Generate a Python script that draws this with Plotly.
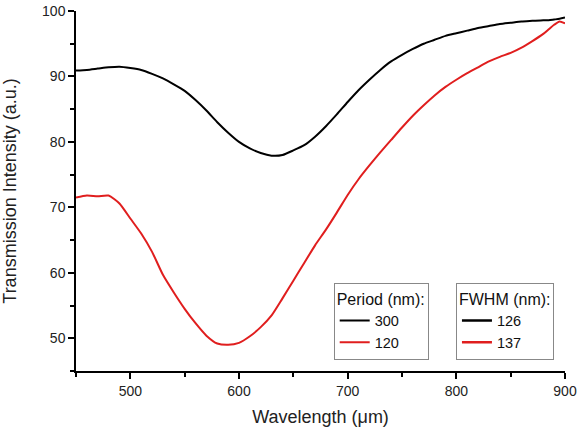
import plotly.graph_objects as go

wavelength = [450, 460, 470, 480, 490, 500, 510, 520, 530, 540, 550, 560, 570, 580, 590,
              600, 610, 620, 630, 640, 650, 660, 670, 680, 690, 700, 710, 720, 730, 740,
              750, 760, 770, 780, 790, 800, 810, 820, 830, 840, 850, 860, 870, 880, 885,
              890, 895, 900]

period_300 = [90.9, 91.0, 91.2, 91.4, 91.5, 91.3, 91.0, 90.4, 89.7, 88.8, 87.8, 86.4, 84.8,
              83.0, 81.4, 80.0, 79.0, 78.3, 77.9, 78.0, 78.7, 79.5, 80.8, 82.4, 84.2, 86.1,
              87.9, 89.5, 91.0, 92.3, 93.3, 94.2, 95.0, 95.6, 96.2, 96.6, 97.0, 97.4, 97.7,
              98.0, 98.2, 98.4, 98.5, 98.6, 98.6, 98.7, 98.8, 99.0]

period_120 = [71.5, 71.8, 71.7, 71.8, 70.6, 68.3, 66.0, 63.2, 59.7, 57.0, 54.5, 52.3, 50.4,
              49.2, 49.0, 49.3, 50.3, 51.7, 53.5, 56.1, 58.8, 61.5, 64.2, 66.6, 69.2, 71.9,
              74.3, 76.4, 78.4, 80.3, 82.2, 84.0, 85.6, 87.1, 88.4, 89.5, 90.5, 91.4, 92.3,
              93.0, 93.6, 94.4, 95.4, 96.5, 97.2, 97.9, 98.4, 98.1]

period_labels = ["300", "120"]
fwhm_labels = ["126", "137"]
colors = ["#000000", "#e01e1e"]

fig = go.Figure()
for lab, ys, col in zip(period_labels, [period_300, period_120], colors):
    fig.add_trace(go.Scatter(x=wavelength, y=ys, mode="lines", name=lab,
                             line=dict(color=col, width=2, shape="spline", smoothing=0.6),
                             legend="legend"))
for lab, col in zip(fwhm_labels, colors):
    fig.add_trace(go.Scatter(x=[None], y=[None], mode="lines", name=lab,
                             line=dict(color=col, width=2.5), legend="legend2"))

font = "Liberation Sans, Arial, sans-serif"
leg_common = dict(bgcolor="white", bordercolor="#888888", borderwidth=1,
                  font=dict(family=font, size=14.5, color="#111111"),
                  yanchor="top", xanchor="left", tracegroupgap=0,
                  itemwidth=30)

fig.update_layout(
    width=577, height=427,
    margin=dict(l=76, r=12, t=11, b=56),
    paper_bgcolor="white", plot_bgcolor="white",
    font=dict(family=font, color="#222222"),
    showlegend=True,
    legend=dict(title=dict(text="Period (nm):", font=dict(size=16)), x=0.527, y=0.245, **leg_common),
    legend2=dict(title=dict(text="FWHM (nm):", font=dict(size=16)), x=0.777, y=0.245, **leg_common),
    xaxis=dict(range=[450, 900], tick0=500, dtick=100, showgrid=False, zeroline=False,
               showline=True, linecolor="black", linewidth=1.5, automargin=False,
               ticks="outside", ticklen=6, tickwidth=1.5, tickcolor="black",
               minor=dict(dtick=50, tick0=450, ticks="outside", ticklen=4, tickwidth=1.5, tickcolor="black"),
               tickfont=dict(size=14, color="#222222"),
               title=dict(text="Wavelength (μm)", font=dict(size=18, color="#222222"), standoff=13)),
    yaxis=dict(range=[45, 100], tick0=50, dtick=10, showgrid=False, zeroline=False,
               showline=True, linecolor="black", linewidth=1.5, automargin=False,
               ticks="outside", ticklen=6, tickwidth=1.5, tickcolor="black",
               minor=dict(dtick=5, tick0=45, ticks="outside", ticklen=4, tickwidth=1.5, tickcolor="black"),
               tickfont=dict(size=14, color="#222222"),
               title=dict(text="Transmission Intensity (a.u.)", font=dict(size=18, color="#222222"), standoff=22)),
)

fig.write_html("out.html")
